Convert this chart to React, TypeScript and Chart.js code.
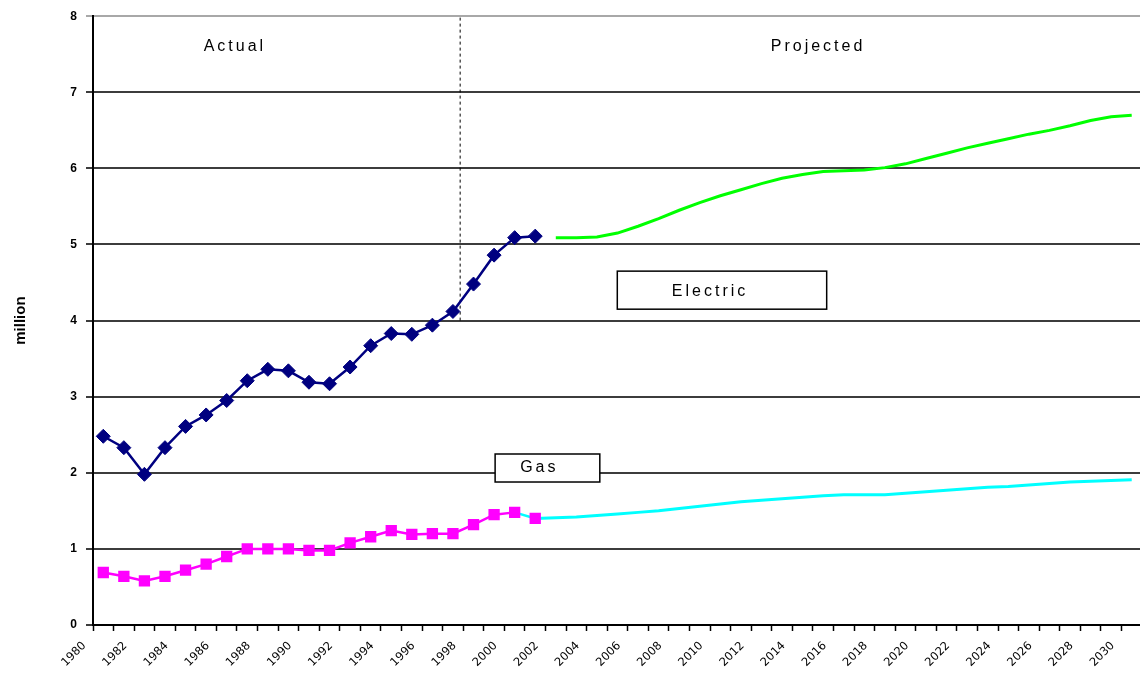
import React, { useEffect, useRef } from 'react';
import { Chart, registerables } from 'chart.js';

Chart.register(...registerables);

// Category labels (one per year)
const years: string[] = [
  '1980', '1981', '1982', '1983', '1984', '1985', '1986', '1987', '1988', '1989',
  '1990', '1991', '1992', '1993', '1994', '1995', '1996', '1997', '1998', '1999',
  '2000', '2001', '2002', '2003', '2004', '2005', '2006', '2007', '2008', '2009',
  '2010', '2011', '2012', '2013', '2014', '2015', '2016', '2017', '2018', '2019',
  '2020', '2021', '2022', '2023', '2024', '2025', '2026', '2027', '2028', '2029',
  '2030',
];

// Electric, actual 1980-2001 (million)
const electricActual: number[] = [
  2.48, 2.33, 1.98, 2.33, 2.61, 2.76, 2.95, 3.21, 3.36, 3.34,
  3.19, 3.17, 3.39, 3.67, 3.83, 3.82, 3.94, 4.12, 4.48, 4.86,
  5.09, 5.11,
];
const electricActualStart = '1980';

// Electric, projected 2002-2030
const electricProjected: number[] = [
  5.09, 5.09, 5.10, 5.15, 5.24, 5.34, 5.45, 5.55, 5.64, 5.72,
  5.80, 5.87, 5.92, 5.96, 5.97, 5.98, 6.01, 6.06, 6.13, 6.20,
  6.27, 6.33, 6.39, 6.45, 6.50, 6.56, 6.63, 6.68, 6.70,
];
const electricProjectedStart = '2002';

// Gas, actual 1980-2001
const gasActual: number[] = [
  0.69, 0.64, 0.58, 0.64, 0.72, 0.80, 0.90, 1.00, 1.00, 1.00,
  0.98, 0.98, 1.08, 1.16, 1.24, 1.19, 1.20, 1.20, 1.32, 1.45,
  1.48, 1.40,
];
const gasActualStart = '1980';

// Gas, projected 2001-2030
const gasProjected: number[] = [
  1.40, 1.41, 1.42, 1.44, 1.46, 1.48, 1.50, 1.53, 1.56, 1.59,
  1.62, 1.64, 1.66, 1.68, 1.70, 1.71, 1.71, 1.71, 1.73, 1.75,
  1.77, 1.79, 1.81, 1.82, 1.84, 1.86, 1.88, 1.89, 1.90, 1.91,
];
const gasProjectedStart = '2001';

// Actual / projected divider (year position) and its vertical span
const dividerYear = 1997.35;
const dividerSpan: number[] = [4, 8];

// Y axis range
const yMin = 0;
const yMax = 8;

// Text annotations (positions in data units)
const sectionLabels = [
  { text: 'Actual', x: 1986.4, y: 7.6 },
  { text: 'Projected', x: 2014.75, y: 7.6 },
];
const seriesBoxes = [
  { text: 'Electric', x0: 2004.99, x1: 2015.17, y0: 4.65, y1: 4.15, tx: 2009.5, ty: 4.38 },
  { text: 'Gas', x0: 1999.05, x1: 2004.14, y0: 2.247, y1: 1.879, tx: 2001.2, ty: 2.07 },
];

const place = (start: string, vals: number[]) => {
  const s = years.indexOf(start);
  return years.map((_, i) => (i >= s && i < s + vals.length ? vals[i - s] : null));
};

const FONT = '"Liberation Sans", Arial, sans-serif';

const notesPlugin = {
  id: 'notes',
  beforeDatasetsDraw(chart: any) {
    const { ctx } = chart;
    const xs = chart.scales.xl;
    const ys = chart.scales.y;
    ctx.save();
    seriesBoxes.forEach((b) => {
      const x0 = xs.getPixelForValue(b.x0);
      const x1 = xs.getPixelForValue(b.x1);
      const y0 = ys.getPixelForValue(b.y0);
      const y1 = ys.getPixelForValue(b.y1);
      ctx.fillStyle = '#ffffff';
      ctx.fillRect(x0, y0, x1 - x0, y1 - y0);
      ctx.strokeStyle = '#000000';
      ctx.lineWidth = 1.5;
      ctx.strokeRect(x0, y0, x1 - x0, y1 - y0);
    });
    ctx.fillStyle = '#000000';
    ctx.font = `16px ${FONT}`;
    (ctx as any).letterSpacing = '3px';
    ctx.textAlign = 'center';
    ctx.textBaseline = 'middle';
    seriesBoxes.forEach((b) => {
      ctx.fillText(b.text, xs.getPixelForValue(b.tx), ys.getPixelForValue(b.ty));
    });
    sectionLabels.forEach((l) => {
      ctx.fillText(l.text, xs.getPixelForValue(l.x), ys.getPixelForValue(l.y));
    });
    ctx.restore();
  },
};

export default function App() {
  const canvasRef = useRef<HTMLCanvasElement | null>(null);

  useEffect(() => {
    if (!canvasRef.current) return;
    const navy = '#000080';
    const magenta = '#ff00ff';
    const green = '#00ff00';
    const cyan = '#00ffff';

    const chart = new Chart(canvasRef.current, {
      type: 'line',
      data: {
        labels: years,
        datasets: [
          {
            label: 'Divider',
            xAxisID: 'xl',
            data: dividerSpan.map((v) => ({ x: dividerYear, y: v })),
            borderColor: '#000000',
            borderWidth: 1,
            borderDash: [3, 3],
            pointRadius: 0,
            order: 5,
          } as any,
          {
            label: 'Electric actual',
            xAxisID: 'x',
            data: place(electricActualStart, electricActual),
            borderColor: navy,
            backgroundColor: navy,
            borderWidth: 2.5,
            pointStyle: 'rectRot',
            pointRadius: 7,
            pointBorderWidth: 1,
            tension: 0,
            order: 1,
          },
          {
            label: 'Electric projected',
            xAxisID: 'x',
            data: place(electricProjectedStart, electricProjected),
            borderColor: green,
            borderWidth: 3,
            pointRadius: 0,
            tension: 0,
            order: 2,
          },
          {
            label: 'Gas actual',
            xAxisID: 'x',
            data: place(gasActualStart, gasActual),
            borderColor: magenta,
            backgroundColor: magenta,
            borderWidth: 2.5,
            pointStyle: 'rect',
            pointRadius: 8,
            pointBorderWidth: 0,
            tension: 0,
            segment: {
              borderColor: (c: any) => (c.p0DataIndex === years.indexOf(gasProjectedStart) - 1 ? cyan : undefined),
            },
            order: 1,
          },
          {
            label: 'Gas projected',
            xAxisID: 'x',
            data: place(gasProjectedStart, gasProjected),
            borderColor: cyan,
            borderWidth: 3,
            pointRadius: 0,
            tension: 0,
            order: 2,
          },
        ],
      },
      options: {
        animation: false,
        responsive: false,
        devicePixelRatio: 1,
        events: [],
        layout: { padding: { top: 16, right: 5, left: 0, bottom: 0 } },
        plugins: {
          legend: { display: false },
          tooltip: { enabled: false },
          title: { display: false },
        },
        scales: {
          x: {
            type: 'category',
            position: 'bottom',
            offset: true,
            grid: {
              offset: true,
              drawOnChartArea: false,
              drawTicks: true,
              tickLength: 6,
              tickColor: '#000000',
              tickWidth: 1.5,
            },
            border: { display: true, color: '#000000', width: 2 },
            ticks: {
              autoSkip: false,
              minRotation: 45,
              maxRotation: 45,
              padding: 8,
              labelOffset: -19,
              color: '#000000',
              font: { family: '"DejaVu Sans", sans-serif', size: 11.5 },
              callback: (_v: any, i: number) => (i % 2 === 0 ? years[i] : ''),
            },
            afterFit: (s: any) => {
              s.height = 52;
            },
          },
          xl: {
            type: 'linear',
            display: false,
            position: 'bottom',
            min: 1979.5,
            max: 2030.5,
          },
          y: {
            min: yMin,
            max: yMax,
            ticks: {
              stepSize: 1,
              padding: 9,
              color: '#000000',
              font: { family: FONT, size: 12, weight: 'bold' },
            },
            grid: {
              color: (c: any) => (c.tick && c.tick.value === yMax ? '#a8a8a8' : '#3c3c3c'),
              lineWidth: 2,
              tickLength: 7,
            },
            border: { display: true, color: '#000000', width: 2 },
            title: {
              display: true,
              text: 'million',
              color: '#000000',
              font: { family: FONT, size: 15, weight: 'bold' },
              padding: { top: 12, bottom: 0 },
            },
            afterFit: (s: any) => {
              s.width = 93;
            },
          },
        },
      },
      plugins: [notesPlugin],
    });

    return () => {
      chart.destroy();
    };
  }, []);

  return (
    <div
      style={{
        position: 'absolute',
        left: 0,
        top: 0,
        width: 1140,
        height: 677,
        overflow: 'hidden',
        background: '#ffffff',
      }}
    >
      <canvas ref={canvasRef} width={1150} height={677} style={{ display: 'block', width: 1150, height: 677 }} />
    </div>
  );
}
